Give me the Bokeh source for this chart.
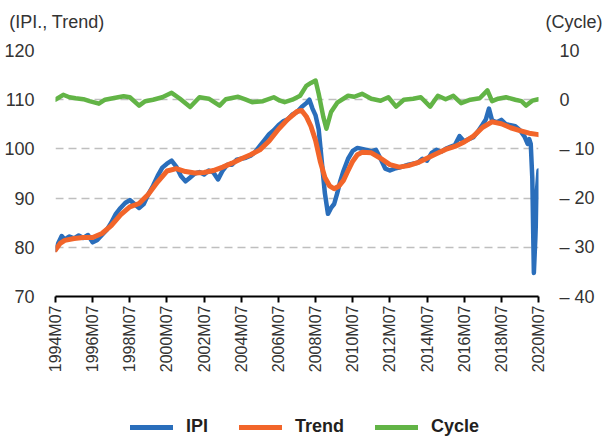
import math
from bokeh.plotting import figure
from bokeh.layouts import column
from bokeh.models import (Range1d, LinearAxis, FixedTicker, Legend, LegendItem)
from bokeh.embed import file_html
from bokeh.resources import INLINE

# ---------------- data ----------------
ipi_dates = ["1994-07", "1994-09", "1994-11", "1995-01", "1995-04", "1995-07", "1995-10",
             "1996-01", "1996-04", "1996-07", "1996-10", "1997-01", "1997-04", "1997-07",
             "1997-10", "1998-01", "1998-04", "1998-07", "1998-10", "1999-01", "1999-04",
             "1999-07", "1999-10", "2000-01", "2000-04", "2000-07", "2000-10", "2001-01",
             "2001-04", "2001-07", "2001-10", "2002-01", "2002-04", "2002-07", "2002-10",
             "2003-01", "2003-04", "2003-07", "2003-10", "2004-01", "2004-04", "2004-07",
             "2004-10", "2005-01", "2005-04", "2005-07", "2005-10", "2006-01", "2006-04",
             "2006-07", "2006-10", "2007-01", "2007-04", "2007-07", "2007-10", "2008-01",
             "2008-03", "2008-05", "2008-07", "2008-09", "2008-11", "2009-01", "2009-03",
             "2009-05", "2009-07", "2009-09", "2009-11", "2010-01", "2010-04", "2010-07",
             "2010-10", "2011-01", "2011-04", "2011-07", "2011-10", "2012-01", "2012-04",
             "2012-07", "2012-10", "2013-01", "2013-04", "2013-07", "2013-10", "2014-01",
             "2014-04", "2014-07", "2014-10", "2015-01", "2015-04", "2015-07", "2015-10",
             "2016-01", "2016-04", "2016-07", "2016-10", "2017-01", "2017-04", "2017-07",
             "2017-09", "2017-11", "2018-01", "2018-04", "2018-07", "2018-10", "2019-01",
             "2019-04", "2019-07", "2019-10", "2019-12", "2020-01", "2020-02", "2020-03",
             "2020-04", "2020-05", "2020-06", "2020-07"]
ipi_values = [79.5, 81.0, 82.3, 81.6, 82.2, 81.8, 82.4,
              81.9, 82.5, 81.0, 81.5, 82.5, 83.5, 85.0,
              86.8, 88.0, 89.0, 89.6, 88.8, 88.0, 88.8,
              90.8, 92.5, 94.5, 96.2, 97.0, 97.6, 96.4,
              94.5, 93.4, 94.2, 95.0, 95.3, 94.8, 95.6,
              95.2, 93.8, 95.6, 96.8, 96.8, 97.8, 98.0,
              98.2, 98.6, 99.4, 100.6, 101.8, 103.0, 103.8,
              104.8, 105.6, 106.0, 107.0, 107.5, 108.5, 109.3,
              110.0, 108.2, 106.8, 104.0, 97.5, 91.0, 86.8,
              88.0, 88.8, 91.0, 93.5, 95.5, 98.0, 99.6,
              100.2, 100.0, 99.8, 99.5, 99.8, 98.0, 96.0,
              95.6, 96.0, 96.2, 96.5, 96.8, 97.0, 97.2,
              98.0, 97.6, 99.2, 99.8, 99.4, 100.0, 100.4,
              100.8, 102.6, 101.5, 102.0, 102.4, 103.6, 105.0,
              106.0, 108.2, 105.8, 105.4, 105.9, 105.0, 104.8,
              104.6, 103.8, 102.5, 101.0, 102.0, 101.0, 94.0,
              74.8, 82.0, 91.5, 95.6]

trend_dates = ["1994-07", "1994-10", "1995-01", "1995-07", "1996-01", "1996-07", "1997-01",
               "1997-07", "1998-01", "1998-07", "1999-01", "1999-07", "2000-01", "2000-07",
               "2001-01", "2001-07", "2002-01", "2002-07", "2003-01", "2003-07", "2004-01",
               "2004-07", "2005-01", "2005-07", "2006-01", "2006-07", "2007-01", "2007-07",
               "2007-10", "2008-01", "2008-04", "2008-07", "2008-10", "2009-01", "2009-04",
               "2009-07", "2009-10", "2010-01", "2010-04", "2010-07", "2010-10", "2011-01",
               "2011-07", "2012-01", "2012-07", "2013-01", "2013-07", "2014-01", "2014-07",
               "2015-01", "2015-07", "2016-01", "2016-07", "2017-01", "2017-07", "2018-01",
               "2018-07", "2019-01", "2019-07", "2020-01", "2020-07"]
trend_values = [79.5, 80.8, 81.4, 81.8, 82.0, 82.0, 82.8,
                84.4, 86.6, 88.2, 88.9, 90.8, 93.3, 95.5,
                96.0, 95.4, 95.1, 95.2, 95.6, 96.3, 97.1,
                98.0, 98.8, 99.8, 101.6, 104.0, 106.0, 107.6,
                107.8, 106.6, 104.6, 101.7, 97.5, 94.2, 92.5,
                91.9, 92.4, 93.6, 95.6, 97.5, 98.8, 99.3,
                99.2, 98.1, 96.8, 96.3, 96.6, 97.2, 98.1,
                99.0, 99.9, 100.5, 101.4, 102.6, 104.4, 105.5,
                105.1, 104.3, 103.7, 103.2, 102.9]

cycle_dates = ["1994-07", "1994-12", "1995-04", "1995-08", "1996-01", "1996-05", "1996-11",
               "1997-03", "1997-08", "1998-03", "1998-07", "1999-01", "1999-05", "1999-10",
               "2000-04", "2000-10", "2001-03", "2001-10", "2002-04", "2002-10", "2003-05",
               "2003-09", "2004-05", "2004-10", "2005-02", "2005-09", "2006-04", "2006-08",
               "2006-11", "2007-04", "2007-09", "2008-01", "2008-04", "2008-07", "2008-09",
               "2008-12", "2009-02", "2009-05", "2009-09", "2010-04", "2010-08", "2011-01",
               "2011-07", "2012-01", "2012-06", "2012-11", "2013-04", "2013-10", "2014-03",
               "2014-09", "2015-02", "2015-07", "2015-12", "2016-05", "2016-11", "2017-05",
               "2017-10", "2018-01", "2018-05", "2018-10", "2019-04", "2019-08", "2019-11",
               "2020-03", "2020-07"]
cycle_values = [0.0, 1.0, 0.5, 0.3, 0.1, -0.3, -0.8,
                0.0, 0.3, 0.7, 0.5, -1.2, -0.3, 0.0,
                0.5, 1.4, 0.3, -1.5, 0.5, 0.2, -1.2,
                0.1, 0.6, 0.0, -0.5, -0.3, 0.5, -0.2,
                -0.5, 0.0, 0.8, 2.8, 3.4, 3.9, 1.2,
                -3.5, -5.9, -2.5, -0.6, 0.8, 0.6, 1.2,
                0.2, -0.2, 0.5, -1.4, 0.0, 0.2, 0.5,
                -1.4, 0.8, 0.1, 0.8, -0.7, 0.0, 0.3,
                1.9, -0.3, 0.2, 0.5, 0.0, -0.3, -1.2,
                -0.2, 0.1]

x_tick_labels = ["1994M07", "1996M07", "1998M07", "2000M07", "2002M07", "2004M07",
                 "2006M07", "2008M07", "2010M07", "2012M07", "2014M07", "2016M07",
                 "2018M07", "2020M07"]
left_ticks = [70, 80, 90, 100, 110, 120]
right_ticks = [-40, -30, -20, -10, 0, 10]
right_tick_labels = ["\u2013 40", "\u2013 30", "\u2013 20", "\u2013 10", "0", "10"]
left_header = "(IPI., Trend)"
right_header = "(Cycle)"
series_names = ["IPI", "Trend", "Cycle"]
series_colors = ["#2A6EBB", "#F2652A", "#62B446"]


def month_index(s):
    s = s.replace("M", "-")
    y, m = s.split("-")
    return (int(y) - 1994) * 12 + (int(m) - 7)


FONT = "Liberation Sans"
TXT = "#333333"
W = 606
BL, BR = 55, 68          # left / right borders shared by all strips

ipi_x = [month_index(d) for d in ipi_dates]
trend_x = [month_index(d) for d in trend_dates]
cycle_x = [month_index(d) for d in cycle_dates]
x_end = month_index("2020-07")


def plain_axis(ax, standoff, size="18px"):
    ax.axis_line_color = None
    ax.major_tick_line_color = None
    ax.minor_tick_line_color = None
    ax.major_tick_out = 0
    ax.major_tick_in = 0
    ax.major_label_standoff = standoff
    ax.major_label_text_font = FONT
    ax.major_label_text_font_size = size
    ax.major_label_text_color = TXT


# ---------------- header strip: unit captions on the two value axes ----------------
HH = 40
ph = figure(width=W, height=HH, output_backend="svg", toolbar_location=None, title=None,
            x_range=Range1d(0, x_end), y_range=Range1d(0, HH), x_axis_type=None,
            min_border_left=BL, min_border_right=BR, min_border_top=0, min_border_bottom=0)
ph.outline_line_color = None
ph.ygrid.visible = False
cap_pos = HH - 21
hl = ph.yaxis[0]
hl.ticker = FixedTicker(ticks=[cap_pos])
hl.major_label_overrides = {cap_pos: left_header}
plain_axis(hl, -49)
hr = LinearAxis(ticker=FixedTicker(ticks=[cap_pos]))
hr.major_label_overrides = {cap_pos: right_header}
plain_axis(hr, 7)
ph.add_layout(hr, "right")

# ---------------- main chart ----------------
p = figure(width=W, height=350, output_backend="svg", toolbar_location=None, title=None,
           x_range=Range1d(0, x_end), y_range=Range1d(70, 120),
           min_border_left=BL, min_border_right=BR, min_border_top=10, min_border_bottom=94)
p.extra_y_ranges = {"cycle": Range1d(-40, 10)}
p.outline_line_color = None

xa = p.xaxis[0]
xticks = [month_index(t) for t in x_tick_labels]
xa.ticker = FixedTicker(ticks=xticks)
xa.major_label_overrides = {t: l for t, l in zip(xticks, x_tick_labels)}
xa.major_label_orientation = math.pi / 2
xa.axis_line_color = "black"
xa.axis_line_width = 2
xa.major_tick_line_color = "black"
xa.major_tick_line_width = 2
xa.major_tick_out = 6
xa.major_tick_in = 0
xa.minor_tick_line_color = None
xa.major_label_standoff = 3
xa.major_label_text_font = FONT
xa.major_label_text_font_size = "16px"
xa.major_label_text_color = TXT

ya = p.yaxis[0]
ya.ticker = FixedTicker(ticks=left_ticks)
plain_axis(ya, 21)

ra = LinearAxis(y_range_name="cycle", ticker=FixedTicker(ticks=right_ticks))
ra.major_label_overrides = {t: l for t, l in zip(right_ticks, right_tick_labels)}
plain_axis(ra, 21)
p.add_layout(ra, "right")

p.xgrid.grid_line_color = None
p.ygrid.grid_line_color = "#BFBFBF"
p.ygrid.grid_line_width = 1.5
p.ygrid.grid_line_dash = "8 5"

p.line(ipi_x, ipi_values, line_color=series_colors[0],
       line_width=4.5, line_cap="round", line_join="round")
p.line(trend_x, trend_values, line_color=series_colors[1],
       line_width=5, line_cap="round", line_join="round")
p.line(cycle_x, cycle_values, line_color=series_colors[2],
       line_width=4.5, line_cap="round", line_join="round", y_range_name="cycle")

# ---------------- legend strip ----------------
LH = 48
pl = figure(width=W, height=LH, output_backend="svg", toolbar_location=None, title=None,
            x_range=Range1d(0, x_end), y_range=Range1d(500, 501),
            x_axis_type=None, y_axis_type=None,
            min_border_left=BL, min_border_right=BR, min_border_top=0, min_border_bottom=0)
pl.outline_line_color = None
items = []
for name, col, xs, ys in zip(series_names, series_colors,
                             [ipi_x, trend_x, cycle_x], [ipi_values, trend_values, cycle_values]):
    # same series, entirely outside this strip's visible range: only its legend sample shows
    r = pl.line(xs, ys, line_color=col, line_width=5, line_cap="round")
    items.append(LegendItem(label=name, renderers=[r]))
legend = Legend(items=items, orientation="horizontal", location=(75, 1),
                glyph_width=43, glyph_height=20, label_height=20, label_standoff=13, spacing=31,
                padding=0, margin=0, border_line_color=None, background_fill_alpha=0,
                label_text_font=FONT, label_text_font_size="18px",
                label_text_font_style="bold", label_text_color="#231F20")
pl.add_layout(legend)

layout = column(ph, p, pl, spacing=0)
open("out.html", "w").write(file_html(layout, INLINE))
